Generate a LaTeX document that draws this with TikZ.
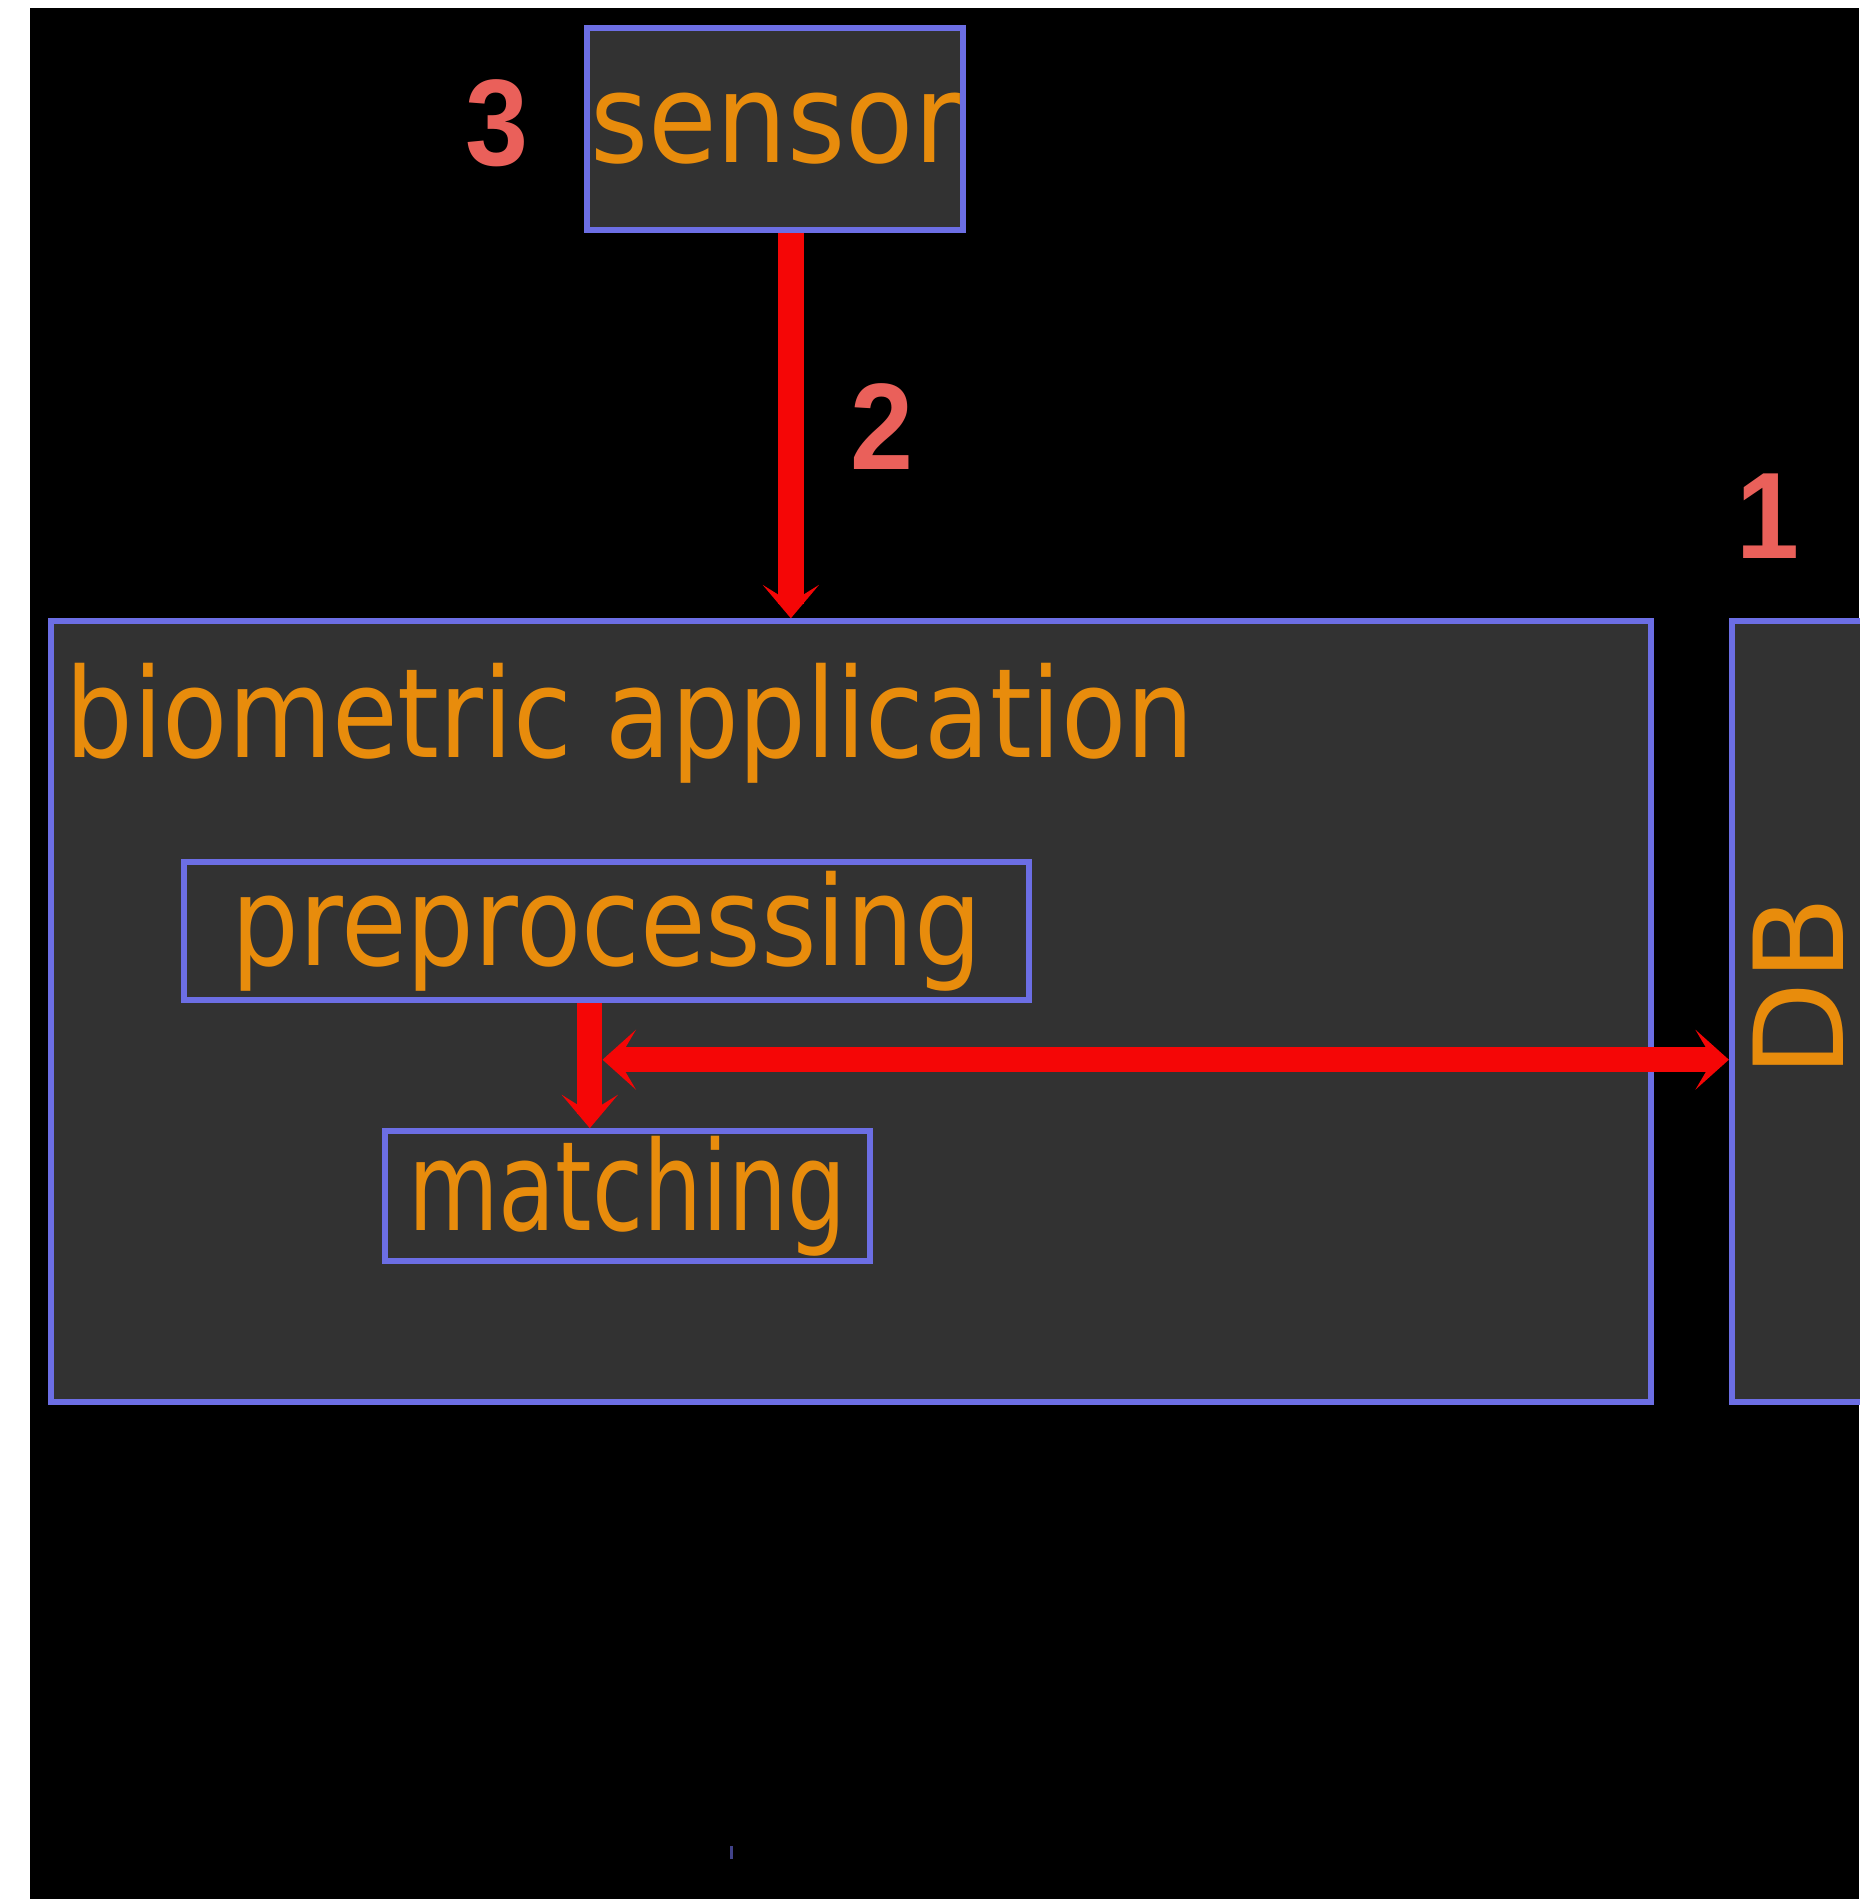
\documentclass[tikz,border=0pt]{standalone}
\usepackage{fontspec}
\usepackage{tikz}
\usetikzlibrary{positioning,arrows.meta,calc}
\newfontfamily\boxfont{DejaVu Sans}
\newfontfamily\numfont{Liberation Sans}
\definecolor{panel}{RGB}{50,50,50}
\definecolor{frameblue}{RGB}{108,110,228}
\definecolor{labelorange}{RGB}{232,140,12}
\definecolor{flowred}{RGB}{245,6,6}
\definecolor{numred}{RGB}{234,96,90}
\newcommand{\px}{0.1211mm}
\newcommand{\squeeze}[2]{\scalebox{#1}[1]{#2}}

\begin{document}
\begin{tikzpicture}[x=\px, y=\px,
  frame/.style={draw=frameblue, fill=panel, line width=1.7pt, inner sep=0pt},
  boxtext/.style={text=labelorange, font=\boxfont\fontsize{35.3}{40}\selectfont, inner sep=0pt},
  flow/.style={draw=flowred, line width=7.2pt, -{Stealth[length=9.5pt,width=16pt,inset=5pt]}},
  num/.style={text=numred, font=\numfont\bfseries\fontsize{35}{40}\selectfont, inner sep=0pt}]
% Background
\useasboundingbox (0,0) rectangle (1535,1568);
\fill[white] (0,0) rectangle (1535,1568);
\fill[black] (25,0) rectangle (1535,1561);

% Boxes
\node[frame, boxtext, minimum width=310*\px, minimum height=167*\px] (sensor) at (640,1461.5) {\squeeze{0.9}{sensor}};
\node[frame, minimum width=1321*\px, minimum height=645*\px] (app) at (702.5,732.5) {};
\node[boxtext, anchor=base west] (apptext) at ($(app.north west)+(14,-115)$) {\squeeze{0.86}{biometric application}};
\node[frame, boxtext, minimum width=698*\px, minimum height=114*\px] (pre) at (501,799) {\squeeze{0.86}{preprocessing}};
\node[frame, boxtext, minimum width=400*\px, minimum height=107*\px] (match) at (518,580.5) {\squeeze{0.75}{matching}};
\node[frame, minimum width=115*\px, minimum height=645*\px] (db) at (1487.5,732.5) {};
\node[boxtext, rotate=90] (dbtext) at ($(db.center)+(-2.5,20.5)$) {DB};

% Arrows
\coordinate (s) at ($(sensor.south)+(13,0)$);
\draw[flow] (s) -- (s |- app.north);
\coordinate (p) at ($(pre.south)+(-14,0)$);
\draw[flow] (p) -- (p |- match.north);
\coordinate (h) at ($(db.west)+(0,-39.5)$);
\draw[flow, {Stealth[length=9.5pt,width=17pt,inset=5pt]}-{Stealth[length=9.5pt,width=17pt,inset=5pt]}] ($(p |- h)+(10.5,0)$) -- (h);

% Numbers
\node[num] (n3) at ($(sensor.west)+(-72,5)$) {\squeeze{0.92}{3}};
\node[num] (n2) at ($(s)+(75,-160)$) {\squeeze{0.92}{2}};
\node[num] (n1) at ($(db.north)+(-27.5,84)$) {\squeeze{0.92}{1}};

% Small mark
\draw[frameblue!60!black, line width=1pt] (604,33) -- (604,44);
\end{tikzpicture}
\end{document}
